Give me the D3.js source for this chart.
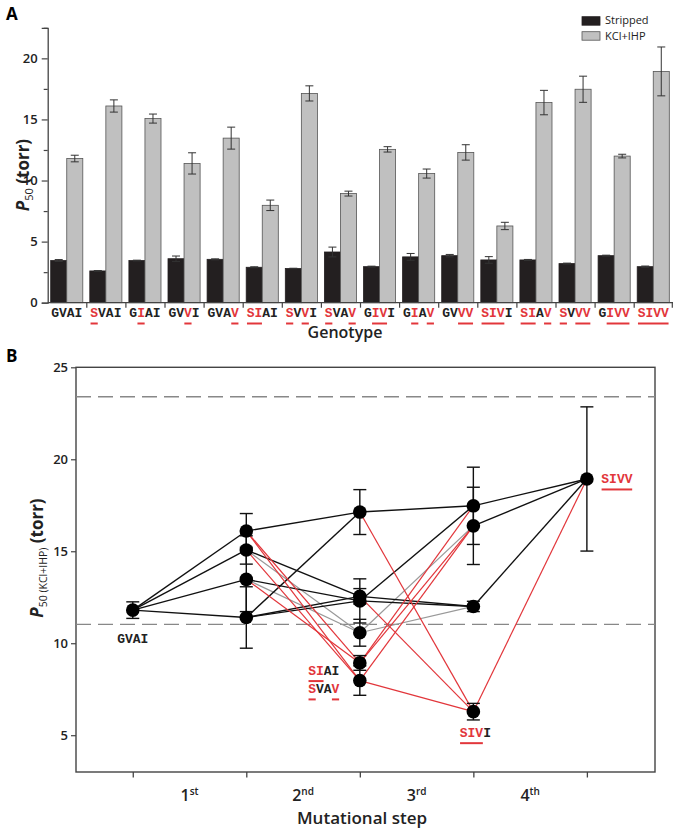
<!DOCTYPE html>
<html>
<head>
<meta charset="utf-8">
<script src="https://cdn.jsdelivr.net/npm/d3@7"></script>
<style>
  body { margin: 0; background: #fff; }
  svg { display: block; font-family: "Open Sans", sans-serif; }
</style>
</head>
<body>
<svg id="chart" width="673" height="828"></svg>
<script>
// ---- data ----
const genotypes = ["GVAI", "SVAI", "GIAI", "GVVI", "GVAV", "SIAI", "SVVI", "SVAV",
                   "GIVI", "GIAV", "GVVV", "SIVI", "SIAV", "SVVV", "GIVV", "SIVV"];
const series = ["Stripped", "KCl+IHP"];
const stripped    = [3.45, 2.6, 3.45, 3.6, 3.55, 2.9, 2.8, 4.15, 2.95, 3.75, 3.85, 3.5, 3.5, 3.2, 3.85, 2.95];
const strippedErr = [0.08, 0.03, 0.03, 0.22, 0.04, 0.04, 0.02, 0.4, 0.04, 0.28, 0.1, 0.27, 0.04, 0.04, 0.04, 0.05];
const kclIhp      = [11.8, 16.1, 15.07, 11.4, 13.47, 7.97, 17.13, 8.93, 12.55, 10.57, 12.3, 6.28, 16.38, 17.47, 12.0, 18.93];
const kclIhpErr   = [0.27, 0.5, 0.37, 0.87, 0.9, 0.43, 0.62, 0.2, 0.22, 0.37, 0.63, 0.3, 1.0, 1.07, 0.15, 2.0];
const yTicksA = [0, 5, 10, 15, 20];

// panel B
const ancestor = "GVAI";
const kclIhpErrB  = [0.45, 0.95, 0.77, 1.67, 1.75, 0.8, 1.22, 0.4, 0.42, 0.73, 1.2, 0.45, 2.1, 2.1, 0.28, 3.92];
const redNodes = ["SIAI", "SVAV", "SIVI"];
const grayNodes = ["GIAV"];
const refLines = [23.4, 11.03];
const stepLabels = ["1", "2", "3", "4"];
const stepSuffix = ["st", "nd", "rd", "th"];
const yTicksB = [5, 10, 15, 20, 25];

const RED = "#e2363b";
const svg = d3.select("#chart");
const monoFont = "'Liberation Mono', 'DejaVu Sans Mono', monospace";

// draw genotype string with red, underlined mutated letters, centred on cx
function genotypeLabel(g, cx, baseline, charW) {
    const start = cx - charW * g.length / 2;
    const grp = svg.append("g");
    const mutated = g.split("").map((ch, i) => ch !== ancestor[i]);
    g.split("").forEach((ch, i) => {
        grp.append("text")
            .attr("x", start + charW * (i + 0.5))
            .attr("y", baseline)
            .attr("text-anchor", "middle")
            .style("font-family", monoFont)
            .style("font-weight", "bold")
            .style("font-size", "13px")
            .style("fill", mutated[i] ? RED : "#222")
            .text(ch);
    });
    // one underline per run of mutated letters
    let i = 0;
    while (i < g.length) {
        if (!mutated[i]) { i++; continue; }
        let j = i;
        while (j + 1 < g.length && mutated[j + 1]) j++;
        grp.append("line")
            .attr("x1", start + charW * i + 0.3)
            .attr("x2", start + charW * (j + 1) - 0.3)
            .attr("y1", baseline + 6.5)
            .attr("y2", baseline + 6.5)
            .attr("stroke", RED)
            .attr("stroke-width", 2);
        i = j + 1;
    }
}

// ================= Panel A =================
const yA = d3.scaleLinear().domain([0, 22.5]).range([302.7, 27.8]);
const x0 = d3.scaleBand().domain(genotypes).range([47.7, 673.3]);
const x1 = d3.scaleBand().domain(series).range([3, x0.bandwidth() - 4]);

const rowsA = genotypes.map((g, i) => ({
    g: g,
    vals: [
        { s: series[0], v: stripped[i], e: strippedErr[i] },
        { s: series[1], v: kclIhp[i], e: kclIhpErr[i] }
    ]
}));

const gA = svg.append("g");
const groups = gA.selectAll("g.grp")
    .data(rowsA)
    .enter()
    .append("g")
    .attr("transform", d => `translate(${x0(d.g)},0)`);

groups.selectAll("rect")
    .data(d => d.vals)
    .enter()
    .append("rect")
    .attr("x", d => x1(d.s))
    .attr("y", d => yA(d.v))
    .attr("width", x1.bandwidth())
    .attr("height", d => yA(0) - yA(d.v))
    .attr("fill", d => d.s === "Stripped" ? "#231f20" : "#c0c0c0")
    .attr("stroke", d => d.s === "Stripped" ? "#231f20" : "#555")
    .attr("stroke-width", 0.8);

const errA = groups.selectAll("g.err")
    .data(d => d.vals)
    .enter()
    .append("g")
    .attr("stroke", "#333")
    .attr("stroke-width", 1);
errA.append("line")
    .attr("x1", d => x1(d.s) + x1.bandwidth() / 2)
    .attr("x2", d => x1(d.s) + x1.bandwidth() / 2)
    .attr("y1", d => yA(d.v - d.e))
    .attr("y2", d => yA(d.v + d.e));
[1, -1].forEach(sign => {
    errA.append("line")
        .attr("x1", d => x1(d.s) + x1.bandwidth() / 2 - 4)
        .attr("x2", d => x1(d.s) + x1.bandwidth() / 2 + 4)
        .attr("y1", d => yA(d.v + sign * d.e))
        .attr("y2", d => yA(d.v + sign * d.e));
});

// y axis A (major + minor ticks)
const axA = gA.append("g")
    .attr("transform", `translate(${x0.range()[0]},0)`)
    .call(d3.axisLeft(yA).tickValues(yTicksA).tickSize(6).tickPadding(4));
axA.select(".domain").attr("stroke", "#444").attr("stroke-width", 1.3);
axA.selectAll(".tick line").attr("stroke", "#444").attr("stroke-width", 1.2);
axA.selectAll(".tick text").style("font-size", "13px").style("font-weight", 600).style("fill", "#222")
    .style("font-family", "'Open Sans', sans-serif");
gA.append("g")
    .attr("transform", `translate(${x0.range()[0]},0)`)
    .call(d3.axisLeft(yA).tickValues(d3.range(2.5, 23, 5)).tickSize(4).tickFormat(""))
    .call(g => g.select(".domain").remove())
    .selectAll(".tick line").attr("stroke", "#444").attr("stroke-width", 1.2);

// x axis A with boundary ticks
gA.append("line")
    .attr("x1", x0.range()[0]).attr("x2", x0.range()[1])
    .attr("y1", yA(0)).attr("y2", yA(0))
    .attr("stroke", "#444").attr("stroke-width", 1.3);
gA.selectAll("line.bound")
    .data(genotypes.slice(1).concat(["end"]))
    .enter()
    .append("line")
    .attr("x1", d => d === "end" ? x0.range()[1] - 1 : x0(d))
    .attr("x2", d => d === "end" ? x0.range()[1] - 1 : x0(d))
    .attr("y1", yA(0)).attr("y2", yA(0) + 5)
    .attr("stroke", "#444").attr("stroke-width", 1.2);

genotypes.forEach(g => genotypeLabel(g, x0(g) + x0.bandwidth() / 2 - 0.5, 317, 7.8));

gA.append("text")
    .attr("x", 345).attr("y", 338)
    .attr("text-anchor", "middle")
    .style("font-size", "16px").style("font-weight", 600).style("fill", "#222")
    .text("Genotype");

const yTitleA = gA.append("text")
    .attr("transform", "translate(29,175) rotate(-90)")
    .attr("text-anchor", "middle")
    .style("font-size", "17px").style("font-weight", 700).style("fill", "#222");
yTitleA.append("tspan").style("font-style", "italic").text("P");
yTitleA.append("tspan").attr("dy", 4).style("font-size", "11px").style("font-weight", 400).text("50");
yTitleA.append("tspan").attr("dy", -4).text(" (torr)");

// legend
const legend = gA.append("g");
series.forEach((s, i) => {
    legend.append("rect")
        .attr("x", 582).attr("y", 16.7 + i * 15)
        .attr("width", 18).attr("height", 8.5)
        .attr("fill", i === 0 ? "#231f20" : "#c0c0c0")
        .attr("stroke", i === 0 ? "#231f20" : "#555")
        .attr("stroke-width", 0.8);
    legend.append("text")
        .attr("x", 605).attr("y", 24.4 + i * 15.2)
        .style("font-size", "11px").style("fill", "#222")
        .text(s);
});

svg.append("text").attr("x", 6).attr("y", 20)
    .style("font-size", "17px").style("font-weight", 700).text("A");
svg.append("text").attr("x", 6).attr("y", 362)
    .style("font-size", "17px").style("font-weight", 700).text("B");

// ================= Panel B =================
const stepOf = g => g.split("").filter((c, i) => c !== ancestor[i]).length;
const nodes = genotypes.map((g, i) => ({ g: g, step: stepOf(g), v: kclIhp[i], e: kclIhpErrB[i] }));
const byG = {};
nodes.forEach(n => byG[n.g] = n);

const xB = d3.scaleLinear().domain([-0.5, 4.6]).range([76, 655]);
const yB = d3.scaleLinear().domain([3, 25]).range([772, 367.3]);

const edges = [];
nodes.forEach(a => nodes.forEach(b => {
    if (b.step === a.step + 1 && a.g.split("").filter((c, i) => c !== b.g[i]).length === 1) {
        let kind = "black";
        if (redNodes.includes(a.g) || redNodes.includes(b.g)) kind = "red";
        else if (grayNodes.includes(a.g) || grayNodes.includes(b.g)) kind = "gray";
        edges.push({ a: a, b: b, kind: kind });
    }
}));
const edgeColor = { black: "#111", gray: "#999", red: RED };
const order = { gray: 0, black: 1, red: 2 };
edges.sort((p, q) => order[p.kind] - order[q.kind]);

const gB = svg.append("g");

// frame
gB.append("rect")
    .attr("x", xB.range()[0]).attr("y", yB.range()[1])
    .attr("width", xB.range()[1] - xB.range()[0])
    .attr("height", yB.range()[0] - yB.range()[1])
    .attr("fill", "none").attr("stroke", "#444").attr("stroke-width", 1.4);

gB.selectAll("line.ref")
    .data(refLines)
    .enter()
    .append("line")
    .attr("x1", xB.range()[0]).attr("x2", xB.range()[1])
    .attr("y1", d => yB(d)).attr("y2", d => yB(d))
    .attr("stroke", "#888").attr("stroke-width", 1.3)
    .attr("stroke-dasharray", "15,7");

gB.selectAll("line.edge")
    .data(edges)
    .enter()
    .append("line")
    .attr("x1", d => xB(d.a.step)).attr("y1", d => yB(d.a.v))
    .attr("x2", d => xB(d.b.step)).attr("y2", d => yB(d.b.v))
    .attr("stroke", d => edgeColor[d.kind])
    .attr("stroke-width", d => d.kind === "black" ? 1.4 : 1.2);

const errB = gB.selectAll("g.errb")
    .data(nodes)
    .enter()
    .append("g")
    .attr("stroke", "#111").attr("stroke-width", 1.4);
errB.append("line")
    .attr("x1", d => xB(d.step)).attr("x2", d => xB(d.step))
    .attr("y1", d => yB(d.v - d.e)).attr("y2", d => yB(d.v + d.e));
[1, -1].forEach(sign => {
    errB.append("line")
        .attr("x1", d => xB(d.step) - 6.5).attr("x2", d => xB(d.step) + 6.5)
        .attr("y1", d => yB(d.v + sign * d.e)).attr("y2", d => yB(d.v + sign * d.e));
});

gB.selectAll("circle")
    .data(nodes)
    .enter()
    .append("circle")
    .attr("cx", d => xB(d.step)).attr("cy", d => yB(d.v))
    .attr("r", 6.8).attr("fill", "#000");

// axes B
const axBL = gB.append("g")
    .attr("transform", `translate(${xB.range()[0]},0)`)
    .call(d3.axisLeft(yB).tickValues(yTicksB).tickSize(5).tickPadding(3));
axBL.select(".domain").remove();
axBL.selectAll(".tick line").attr("stroke", "#444").attr("stroke-width", 1.2);
axBL.selectAll(".tick text").style("font-size", "13px").style("font-weight", 600).style("fill", "#222")
    .style("font-family", "'Open Sans', sans-serif");

const axBB = gB.append("g")
    .attr("transform", `translate(0,${yB.range()[0]})`)
    .call(d3.axisBottom(xB).tickValues([0, 1, 2, 3, 4]).tickSize(5.5).tickFormat(""));
axBB.select(".domain").remove();
axBB.selectAll(".tick line").attr("stroke", "#444").attr("stroke-width", 1.3);

stepLabels.forEach((s, i) => {
    const t = gB.append("text")
        .attr("x", xB(i + 0.5)).attr("y", 801)
        .attr("text-anchor", "middle")
        .style("font-size", "16px").style("font-weight", 600).style("fill", "#222");
    t.append("tspan").text(s);
    t.append("tspan").attr("dy", -6).style("font-size", "10px").text(stepSuffix[i]);
});

gB.append("text")
    .attr("x", 362).attr("y", 824)
    .attr("text-anchor", "middle")
    .style("font-size", "17px").style("font-weight", 600).style("fill", "#222")
    .text("Mutational step");

const yTitleB = gB.append("text")
    .attr("transform", "translate(43,558) rotate(-90)")
    .attr("text-anchor", "middle")
    .style("font-size", "17px").style("font-weight", 700).style("fill", "#222");
yTitleB.append("tspan").style("font-style", "italic").text("P");
yTitleB.append("tspan").attr("dy", 4).style("font-size", "10.5px").style("font-weight", 400).text("50 (KCl+IHP)");
yTitleB.append("tspan").attr("dy", -4).text(" (torr)");

// genotype annotations (offsets from node)
const annot = [
    { g: "GVAI", dx: 0, dy: 33 },
    { g: "SIAI", dx: -36, dy: -6 },
    { g: "SVAV", dx: -36, dy: 30 },
    { g: "SIVI", dx: 2, dy: 25 },
    { g: "SIVV", dx: 30, dy: 4 }
];
annot.forEach(a => {
    const n = byG[a.g];
    genotypeLabel(a.g, xB(n.step) + a.dx, yB(n.v) + a.dy, 7.8);
});
</script>
</body>
</html>
